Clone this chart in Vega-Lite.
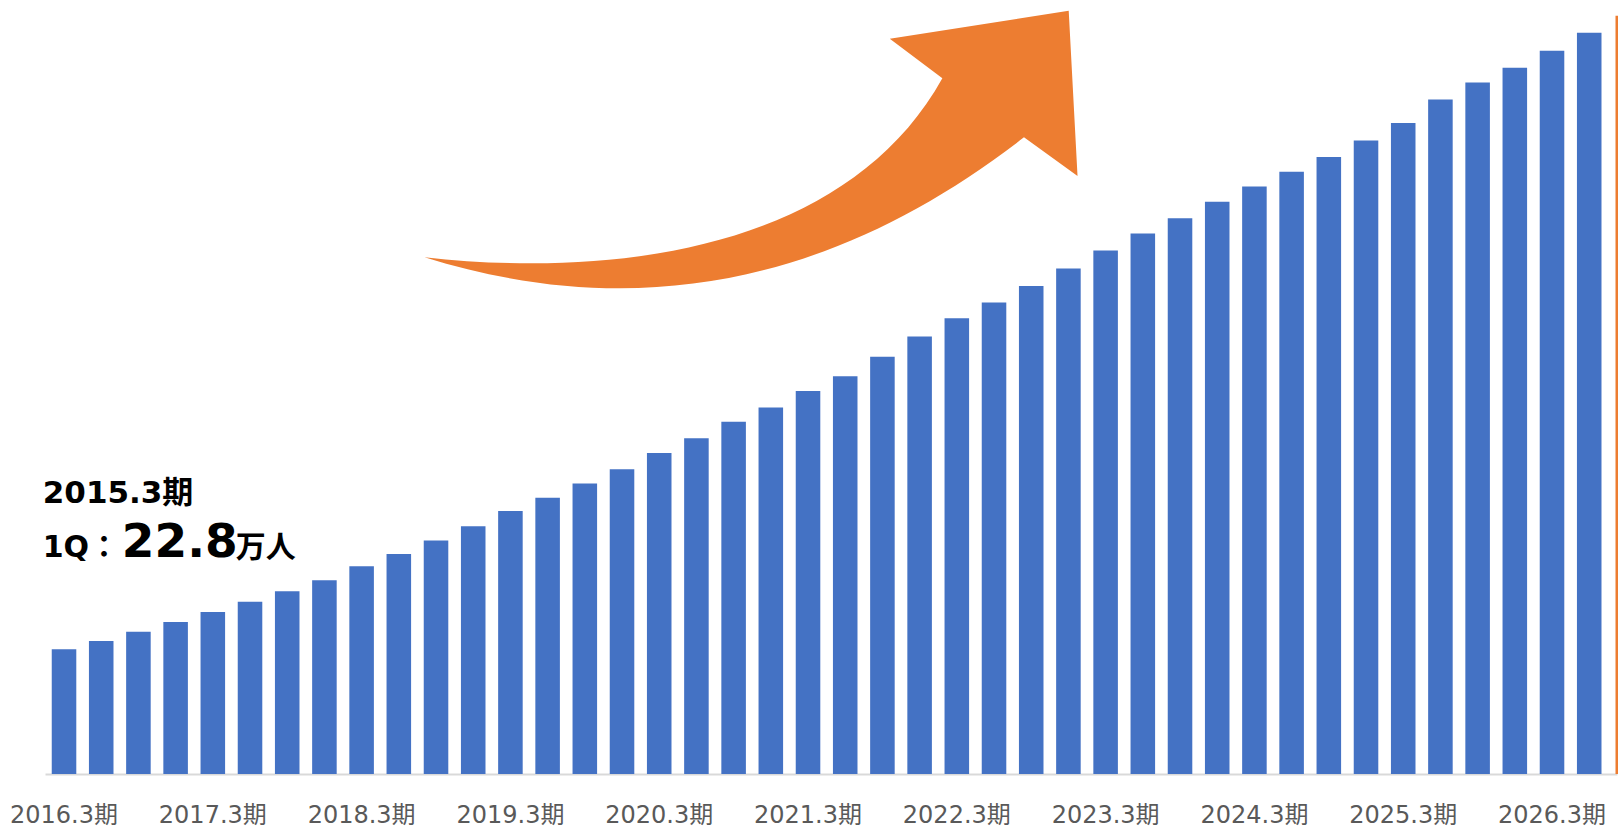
{
  "$schema": "https://vega.github.io/schema/vega-lite/v6.json",
  "autosize": "none",
  "width": 1572,
  "height": 774,
  "padding": {"left": 45, "top": 0, "right": 1, "bottom": 55},
  "background": "white",
  "config": {"view": {"stroke": null}},
  "data": {"values": [
    {"q": "2016.3期-1", "v": 22.8}, {"q": "2016.3期-2", "v": 24.3}, {"q": "2016.3期-3", "v": 26.0}, {"q": "2016.3期-4", "v": 27.8},
    {"q": "2017.3期-1", "v": 29.6}, {"q": "2017.3期-2", "v": 31.5}, {"q": "2017.3期-3", "v": 33.4}, {"q": "2017.3期-4", "v": 35.4},
    {"q": "2018.3期-1", "v": 38.0}, {"q": "2018.3期-2", "v": 40.2}, {"q": "2018.3期-3", "v": 42.7}, {"q": "2018.3期-4", "v": 45.3},
    {"q": "2019.3期-1", "v": 48.1}, {"q": "2019.3期-2", "v": 50.5}, {"q": "2019.3期-3", "v": 53.1}, {"q": "2019.3期-4", "v": 55.7},
    {"q": "2020.3期-1", "v": 58.7}, {"q": "2020.3期-2", "v": 61.4}, {"q": "2020.3期-3", "v": 64.4}, {"q": "2020.3期-4", "v": 67.0},
    {"q": "2021.3期-1", "v": 70.0}, {"q": "2021.3期-2", "v": 72.7}, {"q": "2021.3期-3", "v": 76.3}, {"q": "2021.3期-4", "v": 80.0},
    {"q": "2022.3期-1", "v": 83.3}, {"q": "2022.3期-2", "v": 86.2}, {"q": "2022.3期-3", "v": 89.2}, {"q": "2022.3期-4", "v": 92.4},
    {"q": "2023.3期-1", "v": 95.7}, {"q": "2023.3期-2", "v": 98.8}, {"q": "2023.3期-3", "v": 101.6}, {"q": "2023.3期-4", "v": 104.6},
    {"q": "2024.3期-1", "v": 107.4}, {"q": "2024.3期-2", "v": 110.1}, {"q": "2024.3期-3", "v": 112.8}, {"q": "2024.3期-4", "v": 115.8},
    {"q": "2025.3期-1", "v": 119.0}, {"q": "2025.3期-2", "v": 123.3}, {"q": "2025.3期-3", "v": 126.4}, {"q": "2025.3期-4", "v": 129.1},
    {"q": "2026.3期-1", "v": 132.2}, {"q": "2026.3期-2", "v": 135.5}
  ]},
  "layer": [
    {
      "mark": {"type": "bar", "color": "#4472C4"},
      "encoding": {
        "x": {
          "field": "q", "type": "nominal", "sort": null, "title": null,
          "scale": {"paddingInner": 0.34, "paddingOuter": 0.299, "align": 0.303, "round": false},
          "axis": {
            "domainColor": "#D9D9D9", "domainWidth": 2, "ticks": false, "grid": false,
            "labelAngle": 0, "labelFontSize": 24, "labelFont": "DejaVu Sans, Noto Sans CJK JP",
            "labelColor": "#595959", "labelPadding": 29, "labelOverlap": false,
            "labelExpr": "split(datum.value, '-')[1] == '1' ? split(datum.value, '-')[0] : ''"
          }
        },
        "y": {
          "field": "v", "type": "quantitative", "title": null,
          "scale": {"domain": [0, 141.5], "nice": false, "zero": true},
          "axis": null
        }
      }
    },
    {
      "data": {"values": [{}]},
      "mark": {"type": "rule", "color": "#ED7D31", "strokeWidth": 3},
      "encoding": {
        "x": {"value": "width"},
        "y": {"datum": 138.6, "type": "quantitative"},
        "y2": {"datum": 0}
      }
    },
    {
      "data": {"values": [{}]},
      "mark": {
        "type": "point", "filled": true, "opacity": 1, "color": "#ED7D31", "strokeWidth": 0,
        "size": 426409,
        "shape": "M -1 0.332 C -0.4 0.40 0.3 0.30 0.586 -0.216 L 0.425 -0.337 L 0.973 -0.423 L 1 0.083 L 0.836 -0.035 C 0.3 0.38 -0.3 0.55 -1 0.332 Z"
      },
      "encoding": {
        "x": {"datum": "2020.3期-3", "bandPosition": 1.209},
        "y": {"datum": 114.3, "type": "quantitative"}
      }
    },
    {
      "data": {"values": [{"t": "2015.3期"}]},
      "mark": {"type": "text", "align": "left", "baseline": "alphabetic", "font": "DejaVu Sans, Noto Sans CJK JP", "fontWeight": "bold", "fontSize": 31, "color": "#000000", "dx": -9},
      "encoding": {
        "x": {"datum": "2016.3期-1", "bandPosition": 0},
        "y": {"datum": 49.5, "type": "quantitative"},
        "text": {"field": "t"}
      }
    },
    {
      "data": {"values": [{"t": "1Q："}]},
      "mark": {"type": "text", "align": "left", "baseline": "alphabetic", "font": "DejaVu Sans, Noto Sans CJK JP", "fontWeight": "bold", "fontSize": 30, "color": "#000000", "dx": -9},
      "encoding": {
        "x": {"datum": "2016.3期-1", "bandPosition": 0},
        "y": {"datum": 39.7, "type": "quantitative"},
        "text": {"field": "t"}
      }
    },
    {
      "data": {"values": [{"t": "22.8"}]},
      "mark": {"type": "text", "align": "left", "baseline": "alphabetic", "font": "DejaVu Sans, Noto Sans CJK JP", "fontWeight": "bold", "fontSize": 47, "color": "#000000", "dx": 70},
      "encoding": {
        "x": {"datum": "2016.3期-1", "bandPosition": 0},
        "y": {"datum": 39.7, "type": "quantitative"},
        "text": {"field": "t"}
      }
    },
    {
      "data": {"values": [{"t": "万人"}]},
      "mark": {"type": "text", "align": "left", "baseline": "alphabetic", "font": "Noto Sans CJK JP", "fontWeight": "bold", "fontSize": 30, "color": "#000000", "dx": 184},
      "encoding": {
        "x": {"datum": "2016.3期-1", "bandPosition": 0},
        "y": {"datum": 39.7, "type": "quantitative"},
        "text": {"field": "t"}
      }
    }
  ]
}
